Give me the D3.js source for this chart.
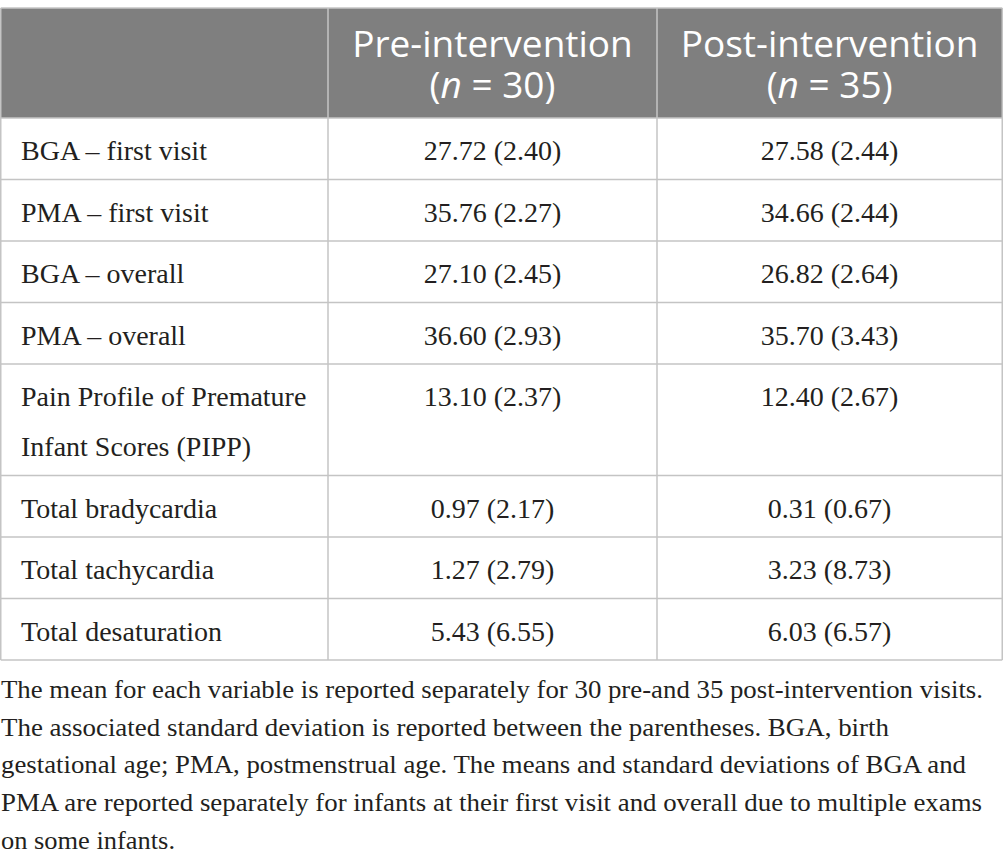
<!DOCTYPE html>
<html>
<head>
<meta charset="utf-8">
<script src="https://d3js.org/d3.v7.min.js"></script>
<style>
  html, body { margin: 0; padding: 0; background: #fff; }
  svg { display: block; }
</style>
</head>
<body>
<div id="chart"></div>
<script>
// Table contents
const headers = [
  { title: "Pre-intervention", n: "30" },
  { title: "Post-intervention", n: "35" }
];
const rowLabels = [
  ["BGA \u2013 first visit"],
  ["PMA \u2013 first visit"],
  ["BGA \u2013 overall"],
  ["PMA \u2013 overall"],
  ["Pain Profile of Premature", "Infant Scores (PIPP)"],
  ["Total bradycardia"],
  ["Total tachycardia"],
  ["Total desaturation"]
];
const preValues = ["27.72 (2.40)", "35.76 (2.27)", "27.10 (2.45)", "36.60 (2.93)",
                   "13.10 (2.37)", "0.97 (2.17)", "1.27 (2.79)", "5.43 (6.55)"];
const postValues = ["27.58 (2.44)", "34.66 (2.44)", "26.82 (2.64)", "35.70 (3.43)",
                    "12.40 (2.67)", "0.31 (0.67)", "3.23 (8.73)", "6.03 (6.57)"];
const footLines = [
  "The mean for each variable is reported separately for 30 pre-and 35 post-intervention visits.",
  "The associated standard deviation is reported between the parentheses. BGA, birth",
  "gestational age; PMA, postmenstrual age. The means and standard deviations of BGA and",
  "PMA are reported separately for infants at their first visit and overall due to multiple exams",
  "on some infants."
];
const footWidths = [983, 889, 966, 982, 175];

const W = 1003, H = 866;
const svg = d3.select("#chart").append("svg").attr("width", W).attr("height", H);

// Column layout
const colEdges = [0.75, 328, 657, 1002.25];
const colCenter = i => (colEdges[i] + colEdges[i + 1]) / 2;

// Row layout: header then body rows with variable line counts
const tableTop = 8, headerH = 110, rowH = 61.5, lineH = 50;
const rowTops = [];
let y = tableTop + headerH;
rowLabels.forEach(l => { rowTops.push(y); y += rowH + (l.length - 1) * lineH; });
const tableBottom = y;

const gridColor = "#c4c4c4";
const serif = "'Liberation Serif', 'Times New Roman', serif";
const sans = "'Open Sans', 'Noto Sans', sans-serif";

// Header background
svg.append("rect")
  .attr("x", colEdges[0]).attr("y", tableTop)
  .attr("width", colEdges[3] - colEdges[0]).attr("height", headerH)
  .attr("fill", "#7f7f7f");

// Header text
headers.forEach((h, i) => {
  const cx = colCenter(i + 1);
  svg.append("text")
    .attr("x", cx).attr("y", tableTop + 49)
    .attr("text-anchor", "middle")
    .attr("font-family", sans).attr("font-size", 37)
    .attr("fill", "#fff")
    .text(h.title);
  const t = svg.append("text")
    .attr("x", cx).attr("y", tableTop + 90)
    .attr("text-anchor", "middle")
    .attr("font-family", sans).attr("font-size", 37)
    .attr("fill", "#fff");
  t.append("tspan").text("(");
  t.append("tspan").attr("font-style", "italic").text("n");
  t.append("tspan").text(" = " + h.n + ")");
});

// Body cells
const body = svg.append("g");
rowLabels.forEach((lines, r) => {
  const top = rowTops[r];
  lines.forEach((ln, k) => {
    body.append("text")
      .attr("x", 21).attr("y", top + 42 + k * lineH)
      .attr("font-family", serif).attr("font-size", 28)
      .attr("fill", "#231f20")
      .text(ln);
  });
  [preValues[r], postValues[r]].forEach((v, c) => {
    body.append("text")
      .attr("x", colCenter(c + 1)).attr("y", top + 42)
      .attr("text-anchor", "middle")
      .attr("font-family", serif).attr("font-size", 28)
      .attr("fill", "#231f20")
      .text(v);
  });
});

// Grid lines
const grid = svg.append("g").attr("stroke", gridColor).attr("stroke-width", 1.5).attr("fill", "none");
[tableTop, ...rowTops, tableBottom].forEach(yy => {
  grid.append("line").attr("x1", colEdges[0]).attr("x2", colEdges[3]).attr("y1", yy).attr("y2", yy);
});
colEdges.forEach(xx => {
  grid.append("line").attr("x1", xx).attr("x2", xx).attr("y1", tableTop).attr("y2", tableBottom);
});

// Footnote
footLines.forEach((ln, i) => {
  svg.append("text")
    .attr("x", 1).attr("y", 698 + i * 37.7)
    .attr("font-family", serif).attr("font-size", 25)
    .attr("fill", "#231f20")
    .attr("textLength", footWidths[i] - 1)
    .attr("lengthAdjust", "spacingAndGlyphs")
    .text(ln);
});
</script>
</body>
</html>
